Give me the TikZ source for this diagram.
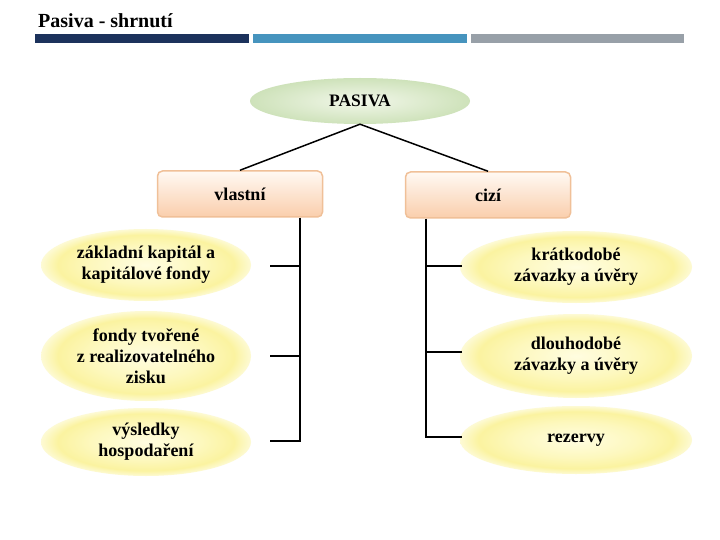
\documentclass[tikz,border=0pt]{standalone}
\usepackage{fontspec}
\setmainfont{Liberation Serif}
\usetikzlibrary{shapes.geometric}
\definecolor{navybar}{RGB}{28,50,92}
\definecolor{bluebar}{RGB}{70,148,190}
\definecolor{graybar}{RGB}{152,160,168}
\definecolor{yelin}{RGB}{255,253,224}
\definecolor{yelmid}{RGB}{253,248,190}
\definecolor{yelout}{RGB}{251,243,160}
\definecolor{yeledge}{RGB}{253,250,212}
\definecolor{grin}{RGB}{242,247,234}
\definecolor{grout}{RGB}{206,226,186}
\definecolor{peachtop}{RGB}{255,249,243}
\definecolor{peachbot}{RGB}{250,206,172}
\definecolor{peachline}{RGB}{240,192,152}
\pgfdeclareradialshading{yelshade}{\pgfpoint{0bp}{0bp}}{color(0bp)=(yelin); color(13bp)=(yelmid); color(21bp)=(yelout); color(25bp)=(yeledge); color(50bp)=(yeledge)}
\tikzset{
  lbl/.style={font=\bfseries\fontsize{18}{21}\selectfont, align=center},
  yell/.style={ellipse, inner sep=0pt, shading=yelshade, lbl},
  grell/.style={ellipse, inner sep=0pt, minimum width=220pt, minimum height=46pt, shading=radial, inner color=grin, outer color=grout, font=\bfseries\fontsize{17.5}{20}\selectfont},
  peachbox/.style={rectangle, rounded corners=5pt, minimum width=165pt, minimum height=46pt, top color=peachtop, bottom color=peachbot, draw=peachline, line width=1.5pt, lbl},
  conn/.style={line width=2pt, black},
}
\begin{document}
\begin{tikzpicture}[x=1pt,y=-1pt]
\useasboundingbox (0,0) rectangle (720,540);
\fill[white] (0,0) rectangle (720,540);
% title and bars
\node[anchor=base west, inner sep=0pt, font=\bfseries\fontsize{20}{24}\selectfont] (title) at (38,28) {Pasiva - shrnutí};
\fill[navybar] (35,34) rectangle (249,43);
\fill[bluebar] (253,34) rectangle (467,43);
\fill[graybar] (471,34) rectangle (684,43);
% top
\node[grell] (pasiva) at (360,101) {PASIVA};
\node[peachbox] (vlastni) at (240,194) {vlastní};
\node[peachbox] (cizi) at (488,195) {cizí};
\draw[line width=1.5pt] (pasiva.south) -- (vlastni.north);
\draw[line width=1.5pt] (pasiva.south) -- (cizi.north);
% left items
\node[yell, minimum width=210pt, minimum height=72pt] (l1) at (146,265) {základní kapitál a\\kapitálové fondy};
\node[yell, minimum width=210pt, minimum height=90pt] (l2) at (146,356) {fondy tvořené\\z realizovatelného\\zisku};
\node[yell, minimum width=210pt, minimum height=68pt] (l3) at (146,442) {výsledky\\hospodaření};
% right items
\node[yell, minimum width=232pt, minimum height=72pt] (r1) at (576,267) {krátkodobé\\závazky a úvěry};
\node[yell, minimum width=232pt, minimum height=84pt] (r2) at (576,356) {dlouhodobé\\závazky a úvěry};
\node[yell, minimum width=232pt, minimum height=68pt] (r3) at (576,440) {rezervy};
% connectors
\coordinate (LV) at (300,0);
\coordinate (RV) at (426,0);
\coordinate (L1) at (270,266);
\coordinate (L2) at (270,356);
\coordinate (L3) at (270,441);
\coordinate (R1) at (462,266);
\coordinate (R2) at (462,352);
\coordinate (R3) at (462,437);
\draw[conn] (vlastni.south -| LV) |- (L3);
\draw[conn] (L1) -- (L1 -| LV);
\draw[conn] (L2) -- (L2 -| LV);
\draw[conn] (cizi.south -| RV) |- (R3);
\draw[conn] (R1) -- (R1 -| RV);
\draw[conn] (R2) -- (R2 -| RV);
\end{tikzpicture}
\end{document}
